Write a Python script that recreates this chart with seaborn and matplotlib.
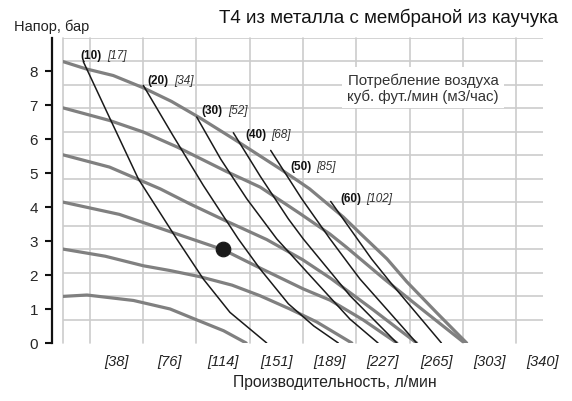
import numpy as np
import matplotlib
matplotlib.use('Agg')
import matplotlib.pyplot as plt
import seaborn as sns

# Pressure curves (gray): flow in l/min, head in bar
g1_x = [0, 17, 50, 76, 92.5, 114, 130]
g1_y = [1.37, 1.41, 1.25, 1.00, 0.72, 0.36, 0]
g2_x = [0, 30, 57, 75.9, 97, 120, 139.8, 161, 180, 205]
g2_y = [2.76, 2.55, 2.27, 2.13, 1.95, 1.70, 1.39, 1.00, 0.62, 0]
g3_x = [0, 40, 74, 113.8, 140, 170.5, 189.5, 213, 237]
g3_y = [4.14, 3.78, 3.30, 2.74, 2.20, 1.59, 1.26, 0.68, 0]
g4_x = [0, 33, 69, 90, 115, 144.6, 170, 190, 220, 251]
g4_y = [5.53, 5.17, 4.53, 4.09, 3.60, 3.04, 2.45, 1.90, 0.98, 0]
g5_x = [0, 33, 57, 81, 116, 140, 168, 189.5, 201, 228, 256, 285]
g5_y = [6.91, 6.54, 6.20, 5.76, 5.04, 4.58, 3.81, 3.20, 2.82, 1.88, 0.95, 0]
g6_x = [0, 16, 35.7, 57, 77, 97, 121, 154, 168, 175, 199, 211, 230, 244, 265, 286.5]
g6_y = [8.27, 8.06, 7.86, 7.50, 7.10, 6.62, 6.00, 5.12, 4.73, 4.53, 3.70, 3.22, 2.47, 1.80, 0.90, 0]

# Air consumption curves (black)
b10_x = [14.4, 33.4, 53.5, 80.7, 99.6, 118.5, 132.7, 144.6]
b10_y = [8.27, 6.59, 4.82, 3.06, 1.88, 0.90, 0.41, 0]
b20_x = [57, 78, 99.6, 124.4, 139.8, 160, 178, 195.4]
b20_y = [7.57, 6.10, 4.63, 3.06, 2.18, 1.15, 0.50, 0]
b30_x = [94.9, 112, 130.4, 151.7, 175, 203.7, 223.6]
b30_y = [6.64, 5.40, 4.24, 3.06, 2.00, 0.70, 0]
b40_x = [120.9, 140, 159.9, 170.5, 203.7, 237]
b40_y = [6.18, 4.90, 3.65, 3.06, 1.39, 0]
b50_x = [147.4, 169.4, 189.5, 203.7, 210.8, 251]
b50_y = [5.66, 4.24, 3.06, 2.27, 1.88, 0]
b60_x = [190, 219, 233, 268.6]
b60_y = [4.16, 2.47, 1.75, 0]

air_cfm = ['(10)', '(20)', '(30)', '(40)', '(50)', '(60)']
air_m3h = ['[17]', '[34]', '[52]', '[68]', '[85]', '[102]']

# operating point
dot_x = [113.6]
dot_y = [2.76]

x_gpm = [10, 20, 30, 40, 50, 60, 70, 80, 90]
x_labels = ['[38]', '[76]', '[114]', '[151]', '[189]', '[227]', '[265]', '[303]', '[340]']
y_ticks = [0, 1, 2, 3, 4, 5, 6, 7, 8]

GPM = 3.785411
PSI = 0.0689476

sns.set_theme(style='white')
plt.rcParams['font.family'] = ['Liberation Sans', 'DejaVu Sans']

fig = plt.figure(figsize=(5.72, 4.02), dpi=100)
ax = fig.add_axes([63 / 572, 1 - 344 / 402, 480 / 572, 305 / 402])

gray = '#808080'
black = '#1a1a1a'
for xs, ys in [(g1_x, g1_y), (g2_x, g2_y), (g3_x, g3_y),
               (g4_x, g4_y), (g5_x, g5_y), (g6_x, g6_y)]:
    sns.lineplot(x=xs, y=ys, sort=False, estimator=None, color=gray,
                 linewidth=2.3, ax=ax, zorder=3)

blacks = [(b10_x, b10_y), (b20_x, b20_y), (b30_x, b30_y),
          (b40_x, b40_y), (b50_x, b50_y), (b60_x, b60_y)]
for xs, ys in blacks:
    sns.lineplot(x=xs, y=ys, sort=False, estimator=None, color=black,
                 linewidth=1.1, ax=ax, zorder=4)

sns.scatterplot(x=dot_x, y=dot_y, s=110, color=black, edgecolor=black,
                ax=ax, zorder=5)

# labels next to the start of each air line (offsets in points)
offsets = [(-1.9, 4.8), (2.9, 3.6), (3.6, 5.3), (8.4, -0.7), (13.9, -11.2), (6.7, 2.4)]
for (xs, ys), a, b, (dx, dy) in zip(blacks, air_cfm, air_m3h, offsets):
    ax.annotate(a, (xs[0], ys[0]), xytext=(dx, dy), textcoords='offset points',
                fontsize=8.5, fontweight='bold', color='#111111', va='center', ha='left')
    ax.annotate(b, (xs[0], ys[0]), xytext=(dx + 19.2, dy), textcoords='offset points',
                fontsize=8.5, fontstyle='italic', color='#333333', va='center', ha='left')

ax.text(0.75, 0.838, 'Потребление воздуха\nкуб. фут./мин (м3/час)',
        transform=ax.transAxes, ha='center', va='center', fontsize=10.8,
        color='#333333', linespacing=1.15, zorder=6,
        bbox=dict(facecolor='white', edgecolor='none', pad=4))

ax.set_xlim(0, 90 * GPM)
ax.set_ylim(0, 130 * PSI)
ax.set_xticks([g * GPM for g in x_gpm])
ax.set_xticklabels(x_labels, fontstyle='italic', fontsize=10.5, color='#222222')
ax.set_xticks(np.arange(0, 19) * 5 * GPM, minor=True)
ax.set_yticks(y_ticks)
ax.set_yticklabels([str(v) for v in y_ticks], fontsize=11, color='#222222')
ax.set_yticks(np.arange(0, 14) * 10 * PSI, minor=True)
ax.grid(which='minor', color='#cccccc', linewidth=1.2, zorder=0)
ax.grid(which='major', visible=False)
for t in ax.xaxis.get_minor_ticks() + ax.yaxis.get_minor_ticks():
    t.gridline.set_clip_on(False)
ax.set_axisbelow(True)

ax.tick_params(axis='x', which='major', length=0, pad=8)
ax.tick_params(axis='y', which='major', length=5, width=1.5, color='#111111',
               pad=5, left=True)
ax.tick_params(which='minor', length=0)
for side in ['top', 'right', 'bottom']:
    ax.spines[side].set_visible(False)
ax.spines['left'].set_position(('outward', 8))
ax.spines['left'].set_linewidth(1.6)
ax.spines['left'].set_color('#111111')
ax.set_xlabel('')
ax.set_ylabel('')

fig.text(14 / 572, 1 - 27 / 402, 'Напор, бар', fontsize=10.5, color='#222222',
         ha='left', va='center')
fig.text(558 / 572, 1 - 18 / 402, 'T4 из металла с мембраной из каучука',
         fontsize=13.5, color='#111111', ha='right', va='center')
fig.text(335 / 572, 1 - 383 / 402, 'Производительность, л/мин', fontsize=11.3,
         color='#222222', ha='center', va='center')

fig.savefig('out.png', dpi=100)
